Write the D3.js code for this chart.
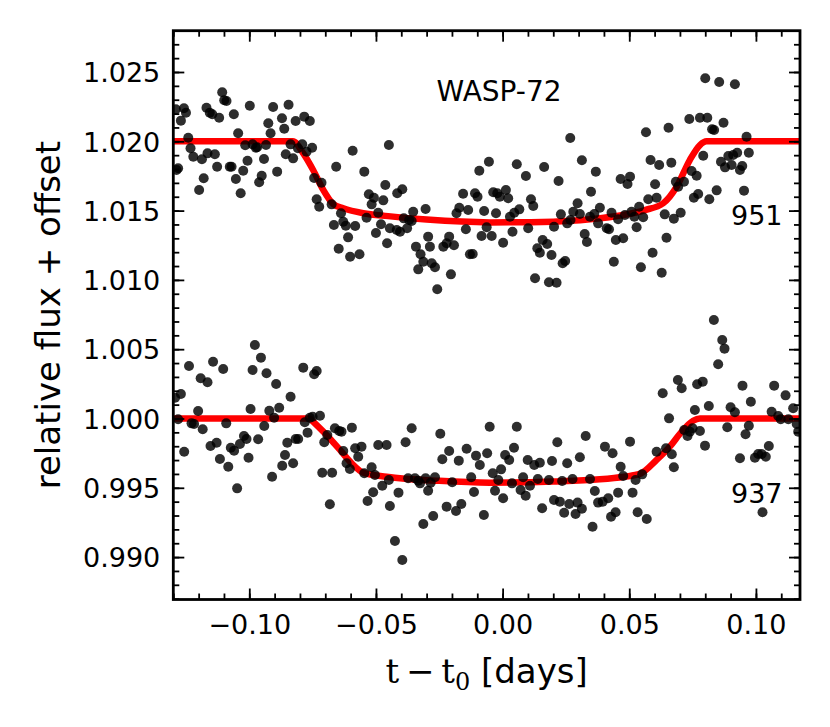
<!DOCTYPE html>
<html><head><meta charset="utf-8">
<script src="https://cdn.jsdelivr.net/npm/d3@7"></script>
<style>body{margin:0;background:#fff;} text{font-family:"DejaVu Sans",sans-serif;}</style>
</head><body><svg id="c" width="830" height="727"></svg>
<script>
// Observations, epoch 951 (offset +0.02)
const transit951 = [
[-0.1290,1.02231],[-0.1258,1.02238],[-0.1250,1.02206],[-0.1270,1.02149],[-0.1241,1.02026],[-0.1232,1.01950],[-0.1221,1.01889],[-0.1281,1.01805],[-0.1287,1.01793],[-0.1187,1.01870],[-0.1165,1.01913],[-0.1136,1.01906],[-0.1180,1.01733],[-0.1198,1.01649],[-0.1169,1.02242],[-0.1156,1.02206],[-0.1146,1.02195],[-0.1119,1.02170],[-0.1107,1.02354],[-0.1099,1.02296],[-0.1090,1.02291],[-0.1061,1.02195],[-0.1044,1.02058],[-0.1127,1.01817],[-0.1077,1.01817],[-0.1070,1.01817],[-0.1053,1.01728],[-0.1034,1.01625],[-0.1024,1.01788],[-0.1007,1.01860],[-0.1016,1.01971],[-0.0998,1.02257],[-0.0987,1.01978],[-0.0974,1.01954],[-0.0969,1.01957],[-0.0961,1.01704],[-0.0951,1.01752],[-0.0942,1.01872],[-0.0934,1.01973],[-0.0925,1.02130],[-0.0916,1.02058],[-0.0906,1.02247],[-0.0890,1.01781],[-0.0871,1.02166],[-0.0862,1.02091],[-0.0856,1.01906],[-0.0845,1.02264],[-0.0837,1.01978],[-0.0827,1.01877],[-0.0817,1.02146],[-0.0808,1.01950],[-0.0791,1.01978],[-0.0783,1.02178],[-0.0761,1.02146],[-0.0752,1.01954],[-0.0774,1.01925],[-0.0744,1.01735],[-0.0715,1.01701],[-0.0734,1.01582],[-0.0724,1.01528],[-0.0675,1.01545],[-0.0657,1.01817],[-0.0638,1.01481],[-0.0629,1.01420],[-0.0619,1.01391],[-0.0666,1.01396],[-0.0610,1.01307],[-0.0647,1.01225],[-0.0602,1.01167],[-0.0565,1.01185],[-0.0582,1.01389],[-0.0592,1.01932],[-0.0546,1.01781],[-0.0528,1.01618],[-0.0517,1.01545],[-0.0508,1.01593],[-0.0537,1.01449],[-0.0491,1.01485],[-0.0471,1.01574],[-0.0480,1.01401],[-0.0500,1.01338],[-0.0463,1.01685],[-0.0449,1.01973],[-0.0456,1.01264],[-0.0445,1.01372],
[-0.0418,1.01360],[-0.0405,1.01348],[-0.0416,1.01625],[-0.0396,1.01654],[-0.0390,1.01444],[-0.0369,1.01432],[-0.0359,1.01425],[-0.0353,1.01492],[-0.0377,1.01372],[-0.0342,1.01240],[-0.0324,1.01185],[-0.0313,1.01131],[-0.0333,1.01076],[-0.0280,1.01120],[-0.0267,1.01091],[-0.0294,1.01312],[-0.0287,1.01240],[-0.0304,1.01512],[-0.0258,1.00932],[-0.0234,1.01240],[-0.0221,1.01264],[-0.0211,1.01312],[-0.0192,1.01250],[-0.0204,1.01040],[-0.0182,1.01481],[-0.0171,1.01521],[-0.0156,1.01622],[-0.0145,1.01365],[-0.0136,1.01504],[-0.0129,1.01185],[-0.0118,1.01187],[-0.0109,1.01625],[-0.0099,1.01600],[-0.0092,1.01788],[-0.0054,1.01853],[-0.0073,1.01497],[-0.0063,1.01380],[-0.0083,1.01317],[-0.0043,1.01317],[-0.0026,1.01481],[-0.0037,1.01632],[-0.0021,1.01625],[-0.0011,1.01600],[0.0013,1.01649],[0.0022,1.01589],[0.0002,1.01268],[0.0029,1.01456],[0.0046,1.01485],[0.0066,1.01509],[0.0039,1.01348],[0.0056,1.01834],[0.0092,1.01750],[0.0112,1.01582],[0.0121,1.01533],[0.0101,1.01372],[0.0128,1.01012],[0.0137,1.01228],[0.0147,1.01196],[0.0158,1.01288],[0.0176,1.01259],[0.0193,1.01180],[0.0183,1.00983],[0.0213,1.00980],[0.0164,1.01815],[0.0203,1.01384],[0.0221,1.01714],[0.0230,1.01473],[0.0237,1.01120],[0.0247,1.01136],[0.0255,1.01408],[0.0268,1.01432],[0.0279,1.01492],[0.0296,1.01553],[0.0305,1.01475],[0.0267,1.02024],[0.0313,1.01863],[0.0324,1.01331],[0.0333,1.01273],[0.0345,1.01456],[0.0362,1.01475],[0.0349,1.01636],[0.0368,1.01781],
[0.0384,1.01521],[0.0377,1.01408],[0.0411,1.01372],[0.0420,1.01365],[0.0430,1.01485],[0.0447,1.01288],[0.0476,1.01300],[0.0439,1.01131],[0.0456,1.01437],[0.0466,1.01728],[0.0493,1.01692],[0.0503,1.01745],[0.0483,1.01468],[0.0509,1.01492],[0.0520,1.01456],[0.0539,1.01528],[0.0555,1.01452],[0.0529,1.01380],[0.0546,1.01091],[0.0566,1.02065],[0.0575,1.01582],[0.0584,1.01865],[0.0608,1.01593],[0.0602,1.01690],[0.0618,1.01829],[0.0592,1.01196],[0.0628,1.01052],[0.0640,1.01473],[0.0647,1.01304],[0.0655,1.02098],[0.0666,1.01846],[0.0676,1.01442],[0.0684,1.01708],[0.0693,1.01672],[0.0703,1.01485],[0.0716,1.01708],[0.0737,1.02161],[0.0779,1.02170],[0.0808,1.02170],[0.0746,1.01786],[0.0766,1.01752],[0.0755,1.01593],[0.0772,1.01620],[0.0792,1.01896],[0.0800,1.02455],[0.0855,1.02428],[0.0917,1.02411],[0.0816,1.01582],[0.0827,1.02087],[0.0835,1.02082],[0.0872,1.02134],[0.0845,1.01646],[0.0862,1.01853],[0.0878,1.01812],[0.0891,1.01894],[0.0904,1.01829],[0.0910,1.01901],[0.0926,1.01918],[0.0937,1.01793],[0.0946,1.01822],[0.0953,1.01644],[0.0963,1.02033],[0.0972,1.01918]
];
// Observations, epoch 937
const transit937 = [
[-0.1293,1.00150],[-0.1270,1.00177],[-0.1281,0.99994],[-0.1257,0.99760],[-0.1238,1.00379],[-0.1228,0.99965],[-0.1218,0.99960],[-0.1202,1.00054],[-0.1184,0.99922],[-0.1192,1.00290],[-0.1165,1.00261],[-0.1143,1.00410],[-0.1103,1.00357],[-0.1153,0.99802],[-0.1129,0.99825],[-0.1116,0.99708],[-0.1083,0.99652],[-0.1091,0.99965],[-0.1073,0.99789],[-0.1060,0.99768],[-0.1048,0.99496],[-0.1037,0.99816],[-0.1021,0.99874],[-0.1011,0.99852],[-0.1003,0.99717],[-0.0995,1.00069],[-0.0987,1.00350],[-0.0978,1.00530],[-0.0954,1.00439],[-0.0965,0.99850],[-0.0941,0.99946],[-0.0932,1.00326],[-0.0921,1.00056],[-0.0902,1.00006],[-0.0910,0.99580],[-0.0894,1.00249],[-0.0882,1.00078],[-0.0870,0.99659],[-0.0859,0.99737],[-0.0850,0.99825],[-0.0837,1.00157],[-0.0827,0.99677],[-0.0817,0.99852],[-0.0807,0.99852],[-0.0787,1.00367],[-0.0781,0.99973],[-0.0770,0.99898],[-0.0761,1.00006],[-0.0750,1.00013],[-0.0744,1.00319],[-0.0734,1.00343],[-0.0721,1.00020],[-0.0704,0.99828],[-0.0692,0.99881],[-0.0712,0.99609],[-0.0673,0.99609],[-0.0682,0.99381],[-0.0662,0.99929],[-0.0645,0.99910],[-0.0636,0.99905],[-0.0629,0.99766],[-0.0616,0.99677],[-0.0603,0.99636],[-0.0595,0.99934],[-0.0582,0.99785],[-0.0570,0.99724],[-0.0557,0.99797],[-0.0546,0.99605],[-0.0517,0.99648],[-0.0504,0.99592],[-0.0533,0.99405],[-0.0511,0.99468],[-0.0475,0.99515],[-0.0491,0.99809],[-0.0458,0.99809],[-0.0449,0.99556],[-0.0445,0.99369],
[-0.0425,0.99116],[-0.0396,0.98979],[-0.0411,0.99465],[-0.0383,0.99828],[-0.0359,0.99929],[-0.0373,0.99569],[-0.0346,0.99569],[-0.0333,0.99551],[-0.0326,0.99532],[-0.0304,0.99569],[-0.0284,0.99537],[-0.0267,0.99576],[-0.0294,0.99479],[-0.0313,0.99239],[-0.0274,0.99297],[-0.0246,0.99890],[-0.0238,0.99706],[-0.0211,0.99766],[-0.0221,0.99364],[-0.0184,0.99333],[-0.0163,0.99383],[-0.0199,0.99540],[-0.0173,0.99696],[-0.0142,0.99782],[-0.0124,0.99576],[-0.0113,0.99470],[-0.0105,0.99732],[-0.0090,0.99665],[-0.0061,0.99749],[-0.0074,0.99304],[-0.0051,0.99941],[-0.0039,0.99605],[-0.0017,0.99556],[-0.0006,0.99633],[-0.0030,0.99479],[0.0002,0.99424],[0.0010,0.99737],[0.0026,0.99701],[0.0045,0.99789],[0.0037,0.99532],[0.0056,0.99941],[0.0071,0.99484],[0.0091,0.99443],[0.0108,0.99515],[0.0081,0.99576],[0.0099,0.99701],[0.0125,0.99665],[0.0147,0.99681],[0.0139,0.99563],[0.0183,0.99556],[0.0156,0.99352],[0.0195,0.99693],[0.0216,0.99828],[0.0203,0.99412],[0.0226,0.99400],[0.0235,0.99549],[0.0243,0.99320],[0.0263,0.99383],[0.0288,0.99311],[0.0296,0.99393],[0.0313,0.99349],[0.0255,0.99677],[0.0276,0.99563],[0.0305,0.99720],[0.0328,0.99874],[0.0345,0.99563],[0.0355,0.99219],[0.0364,0.99477],[0.0377,0.99393],
[0.0395,0.99400],[0.0404,0.99797],[0.0417,0.99424],[0.0428,0.99291],[0.0446,0.99323],[0.0434,0.99749],[0.0456,0.99465],[0.0466,0.99652],[0.0476,0.99585],[0.0503,0.99833],[0.0513,0.99465],[0.0525,0.99556],[0.0533,0.99323],[0.0569,0.99275],[0.0551,0.99597],[0.0608,0.99760],[0.0632,1.00182],[0.0645,0.99785],[0.0657,1.00001],[0.0668,0.99742],[0.0676,0.99648],[0.0692,1.00278],[0.0707,1.00218],[0.0717,0.99917],[0.0730,0.99874],[0.0739,0.99905],[0.0750,0.99929],[0.0759,1.00061],[0.0768,1.00247],[0.0790,1.00266],[0.0779,0.99910],[0.0799,0.99804],[0.0814,1.00090],[0.0834,1.00711],[0.0851,1.00391],[0.0867,1.00566],[0.0876,1.00504],[0.0887,0.99937],[0.0900,1.00081],[0.0917,1.00045],[0.0937,0.99713],[0.0947,1.00237],[0.0959,0.99886],[0.0972,0.99948],[0.0980,1.00121],[0.0996,0.99717],[0.1009,0.99744],[0.1023,0.99744],[0.1039,0.99724],[0.1051,0.99802],[0.1026,0.99323],[0.1062,1.00049],[0.1072,1.00237],[0.1088,1.00018],[0.1098,0.99994],[0.1128,0.99994],[0.1117,1.00167],[0.1147,1.00074],[0.1161,0.99960],[0.1167,0.99905]
];
// Transit model curves
const model951 = [[-0.1300,1.0200],[-0.0828,1.0200],[-0.0787,1.01913],[-0.0748,1.01793],[-0.0708,1.01649],[-0.0669,1.01548],[-0.0629,1.01517],[-0.0550,1.01481],[-0.0452,1.01460],[-0.0300,1.01435],[-0.0050,1.01415],[0.0200,1.01420],[0.0345,1.01437],[0.0476,1.01468],[0.0562,1.01504],[0.0634,1.01553],[0.0687,1.01672],[0.0739,1.01865],[0.0779,1.01973],[0.0805,1.0200],[0.1174,1.0200]];
const model937 = [[-0.1300,1.0000],[-0.0761,1.0000],[-0.0748,0.99977],[-0.0695,0.99881],[-0.0642,0.99773],[-0.0596,0.99677],[-0.0550,0.99609],[-0.0458,0.99580],[-0.0250,0.99550],[-0.0050,0.99537],[0.0200,0.99545],[0.0384,0.99561],[0.0480,0.99580],[0.0542,0.99600],[0.0608,0.99701],[0.0660,0.99797],[0.0707,0.99905],[0.0752,0.99984],[0.0779,1.0000],[0.1174,1.0000]];

const xTickValues = [-0.10,-0.05,0.00,0.05,0.10];
const xTickLabels = ["\u22120.10","\u22120.05","0.00","0.05","0.10"];
const yTickValues = [0.990,0.995,1.000,1.005,1.010,1.015,1.020,1.025];
const yTickLabels = ["0.990","0.995","1.000","1.005","1.010","1.015","1.020","1.025"];
const xDomain = [-0.1300, 0.1174];
const yDomain = [0.98694, 1.02798];
const labels = [
  {text:"WASP-72", t:-0.0014, f:1.02293, anchor:"middle", size:28},
  {text:"951", t:0.1105, f:1.01396, anchor:"end", size:27},
  {text:"937", t:0.1105, f:0.99388, anchor:"end", size:27}
];

const L=173.3, T=30.7, R=800, B=599.5;
const svg = d3.select("#c");
svg.append("rect").attr("width",830).attr("height",727).attr("fill","#fff");
const x = d3.scaleLinear().domain(xDomain).range([L,R]);
const y = d3.scaleLinear().domain(yDomain).range([B,T]);

svg.append("clipPath").attr("id","clip").append("rect")
  .attr("x",L).attr("y",T).attr("width",R-L).attr("height",B-T);
const plot = svg.append("g").attr("clip-path","url(#clip)");

const line = d3.line().x(d=>x(d[0])).y(d=>y(d[1])).curve(d3.curveMonotoneX);
[model951, model937].forEach(m=>{
  plot.append("path").datum(m).attr("d",line)
    .attr("fill","none").attr("stroke","#ff0000").attr("stroke-width",6.5)
    .attr("stroke-linejoin","round");
});
[transit951, transit937].forEach(s=>{
  plot.append("g").selectAll("circle").data(s).join("circle")
    .attr("cx",d=>x(d[0])).attr("cy",d=>y(d[1])).attr("r",5)
    .attr("fill","#000").attr("fill-opacity",0.82);
});

// minor tick values
const xMinor = d3.range(-13,12).map(i=>+(i*0.01).toFixed(2)).filter(v=>v>=xDomain[0]&&v<=xDomain[1]);
const yMinor = d3.range(987,1028).map(i=>+(i*0.001).toFixed(3)).filter(v=>v>=yDomain[0]&&v<=yDomain[1]);

function styleAxis(g){
  g.select(".domain").remove();
  g.selectAll(".tick line").attr("stroke","#000").attr("stroke-width",1.8);
  g.selectAll("text").attr("font-family","DejaVu Sans").attr("font-size",27).attr("fill","#000");
}
// bottom
svg.append("g").attr("transform",`translate(0,${B})`)
  .call(d3.axisBottom(x).tickValues(xMinor).tickSize(-6).tickFormat("")).call(styleAxis);
svg.append("g").attr("transform",`translate(0,${B})`)
  .call(d3.axisBottom(x).tickValues(xTickValues).tickSize(-11).tickPadding(15)
    .tickFormat((d,i)=>xTickLabels[i])).call(styleAxis);
// top
svg.append("g").attr("transform",`translate(0,${T})`)
  .call(d3.axisTop(x).tickValues(xMinor).tickSize(-6).tickFormat("")).call(styleAxis);
svg.append("g").attr("transform",`translate(0,${T})`)
  .call(d3.axisTop(x).tickValues(xTickValues).tickSize(-11).tickFormat("")).call(styleAxis);
// left
svg.append("g").attr("transform",`translate(${L},0)`)
  .call(d3.axisLeft(y).tickValues(yMinor).tickSize(-6).tickFormat("")).call(styleAxis);
svg.append("g").attr("transform",`translate(${L},0)`)
  .call(d3.axisLeft(y).tickValues(yTickValues).tickSize(-11).tickPadding(13)
    .tickFormat((d,i)=>yTickLabels[i])).call(styleAxis)
  .selectAll("text").attr("dy","0.36em");
// right
svg.append("g").attr("transform",`translate(${R},0)`)
  .call(d3.axisRight(y).tickValues(yMinor).tickSize(-6).tickFormat("")).call(styleAxis);
svg.append("g").attr("transform",`translate(${R},0)`)
  .call(d3.axisRight(y).tickValues(yTickValues).tickSize(-11).tickFormat("")).call(styleAxis);

// frame
svg.append("rect").attr("x",L).attr("y",T).attr("width",R-L).attr("height",B-T)
  .attr("fill","none").attr("stroke","#000").attr("stroke-width",2.8);

// annotations
labels.forEach(a=>{
  svg.append("text").attr("x",x(a.t)).attr("y",y(a.f)).attr("text-anchor",a.anchor)
    .attr("font-size",a.size).attr("fill","#000").text(a.text);
});

// axis labels
const xl = svg.append("text").attr("x",(L+R)/2).attr("y",683).attr("text-anchor","middle")
  .attr("font-size",34).attr("fill","#000");
xl.append("tspan").attr("font-family","DejaVu Serif").text("t\u2009\u2212\u2009t");
xl.append("tspan").attr("font-family","DejaVu Serif").attr("font-size",24).attr("dy",7).text("0");
xl.append("tspan").attr("dy",-7).text(" [days]");

svg.append("text").attr("transform",`translate(60,${(T+B)/2}) rotate(-90)`)
  .attr("text-anchor","middle").attr("font-size",34).attr("fill","#000")
  .text("relative flux + offset");
</script></body></html>
